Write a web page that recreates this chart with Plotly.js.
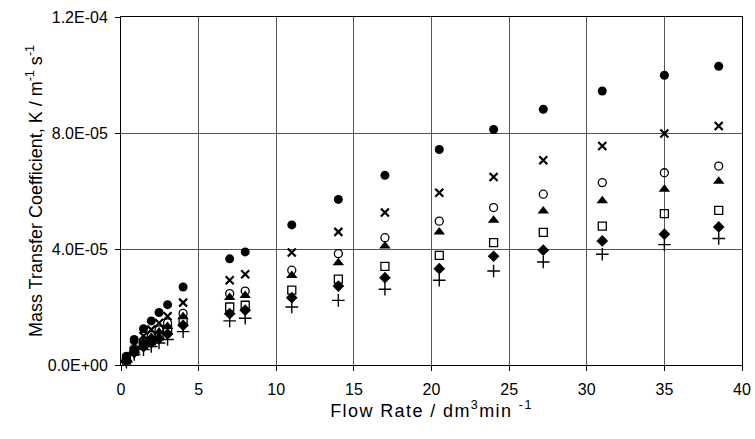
<!DOCTYPE html>
<html>
<head>
<meta charset="utf-8">
<script src="https://cdn.plot.ly/plotly-3.0.1.min.js"></script>
<style>html,body{margin:0;padding:0;background:#fff;}#chart{width:755px;height:439px;}
.xtitle{letter-spacing:1.4px;}
</style>
</head>
<body>
<div id="chart"></div>
<script>
// Flow rate (dm3/min)
var flowRate = [0.35, 0.85, 1.45, 1.95, 2.45, 3.0, 4.0, 7, 8, 11, 14, 17, 20.5, 24, 27.2, 31, 35, 38.5];
// Mass transfer coefficient values, in units of 1e-5
var seriesFilledCircle = [0.30, 0.88, 1.25, 1.52, 1.81, 2.08, 2.69, 3.66, 3.90, 4.83, 5.71, 6.54, 7.43, 8.12, 8.82, 9.45, 9.99, 10.3];
var seriesAsterisk     = [0.24, 0.68, 1.00, 1.22, 1.45, 1.68, 2.15, 2.92, 3.13, 3.88, 4.59, 5.26, 5.94, 6.48, 7.06, 7.55, 7.98, 8.24];
var seriesOpenCircle   = [0.20, 0.57, 0.84, 1.02, 1.21, 1.45, 1.78, 2.46, 2.55, 3.27, 3.84, 4.39, 4.96, 5.43, 5.89, 6.29, 6.63, 6.86];
var seriesTriangle     = [0.19, 0.54, 0.79, 0.96, 1.14, 1.33, 1.66, 2.33, 2.40, 3.09, 3.53, 4.10, 4.59, 4.99, 5.31, 5.66, 6.06, 6.34];
var seriesOpenSquare   = [0.17, 0.47, 0.69, 0.84, 1.00, 1.22, 1.50, 2.00, 2.06, 2.58, 2.96, 3.40, 3.78, 4.22, 4.57, 4.79, 5.22, 5.33];
var seriesDiamond      = [0.15, 0.43, 0.63, 0.77, 0.91, 1.07, 1.37, 1.77, 1.89, 2.32, 2.72, 3.01, 3.32, 3.75, 3.96, 4.28, 4.51, 4.76];
var seriesPlus         = [0.10, 0.36, 0.53, 0.64, 0.76, 0.88, 1.15, 1.52, 1.61, 2.00, 2.23, 2.61, 2.92, 3.24, 3.55, 3.82, 4.15, 4.36];
var xTickVals = [0, 5, 10, 15, 20, 25, 30, 35, 40];
var yTickVals = [0, 4e-5, 8e-5, 1.2e-4];
var yTickText = ["0.0E+00", "4.0E-05", "8.0E-05", "1.2E-04"];

function scale(arr) { return arr.map(function (v) { return v * 1e-5; }); }

function mk(y, symbol, size, lw) {
  return {
    x: flowRate, y: scale(y), type: 'scatter', mode: 'markers', cliponaxis: false,
    marker: { symbol: symbol, size: size, color: '#000', line: { color: '#000', width: lw } },
    showlegend: false
  };
}

var data = [
  mk(seriesFilledCircle, 'circle', 9, 0),
  mk(seriesAsterisk, 'x-thin-open', 8, 2.2),
  mk(seriesOpenCircle, 'circle-open', 8, 1.3),
  mk(seriesTriangle, 'triangle-up', 10, 0),
  mk(seriesOpenSquare, 'square-open', 8, 1.3),
  mk(seriesDiamond, 'diamond', 9, 0),
  mk(seriesPlus, 'cross-thin-open', 9, 1.4)
];

var fam = 'Liberation Sans, Arial, sans-serif';

var layout = {
  width: 755, height: 439,
  margin: { l: 121, r: 13, t: 17, b: 74 },
  paper_bgcolor: '#fff', plot_bgcolor: '#fff',
  font: { family: fam, size: 16, color: '#000' },
  xaxis: {
    range: [0, 40], tickvals: xTickVals, ticks: 'outside', ticklen: 5, tickcolor: '#000',
    ticklabelstandoff: 5,
    showgrid: true, gridcolor: '#555', gridwidth: 1,
    showline: true, linecolor: '#000', linewidth: 1, mirror: true,
    zeroline: false, tickfont: { family: fam, size: 16, color: '#000' },
    title: { text: 'Flow Rate / dm<sup>3</sup>min <sup>-1</sup>', font: { family: fam, size: 18, color: '#000' }, standoff: 6 }
  },
  yaxis: {
    range: [0, 1.2e-4], tickvals: yTickVals, ticktext: yTickText, ticks: 'outside', ticklen: 5, tickcolor: '#000',
    ticklabelstandoff: 4,
    showgrid: true, gridcolor: '#555', gridwidth: 1,
    showline: true, linecolor: '#000', linewidth: 1, mirror: true,
    zeroline: false, tickfont: { family: fam, size: 16, color: '#000' },
    title: { text: 'Mass Transfer Coefficient, K / m<sup>-1</sup> s<sup>-1</sup>', font: { family: fam, size: 18, color: '#000' }, standoff: 0 }
  }
};

Plotly.newPlot('chart', data, layout, { displayModeBar: false, staticPlot: true });
</script>
</body>
</html>
